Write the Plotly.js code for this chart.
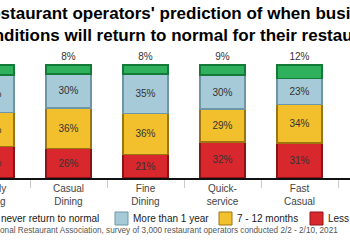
<!DOCTYPE html>
<html>
<head>
<meta charset="utf-8">
<script src="https://cdn.plot.ly/plotly-3.0.1.min.js"></script>
<style>
html,body{margin:0;padding:0;overflow:hidden;background:#fff;width:350px;height:250px;}
#chart{position:absolute;left:-60px;top:0;width:500px;height:250px;}
</style>
</head>
<body>
<div id="chart"></div>
<script>
// Data
const categories = ["Family<br>Dining", "Casual<br>Dining", "Fine<br>Dining", "Quick-<br>service", "Fast<br>Casual"];
const lessThan6 = [28, 26, 21, 32, 31];
const months7to12 = [30, 36, 36, 29, 34];
const moreThan1yr = [33, 30, 35, 30, 23];
const neverNormal = [9, 8, 8, 9, 12];
const seriesNames = ["Less than 6 months", "7 - 12 months", "More than 1 year", "Will never return to normal"];

const fills = ["#d8282d", "#f1c02c", "#a6cad8", "#2fb05c"];
const edges = ["#8c1418", "#9c7510", "#6d97a6", "#147a38"];
const seriesValues = [lessThan6, months7to12, moreThan1yr, neverNormal];

const traces = seriesValues.map((vals, i) => ({
  type: "bar",
  x: categories,
  y: vals,
  name: seriesNames[i],
  width: 0.58,
  marker: {color: fills[i], line: {color: edges[i], width: 1.5}},
  text: vals.map(v => v + "%"),
  textposition: i === 3 ? "outside" : "inside",
  insidetextanchor: "middle",
  textangle: 0,
  textfont: {family: "Liberation Sans, Arial", size: 10, color: "#333"},
  cliponaxis: false,
  hoverinfo: "skip",
  showlegend: false
}));

// pixel helpers (visible screen coords -> paper coords)
const PL = 13, PW = 462, BASE = 178, PH = 130, OFF = 60;
const px = sx => (sx + OFF - PL) / PW;
const py = sy => (BASE - sy) / PH;

const legendItems = [
  {name: "Will never return to normal", color: fills[3], edge: edges[3], box: -36},
  {name: "More than 1 year", color: fills[2], edge: edges[2], box: 115},
  {name: "7 - 12 months", color: fills[1], edge: edges[1], box: 219},
  {name: "Less than 6 months", color: fills[0], edge: edges[0], box: 310}
];
const shapes = [];
const annotations = [];
legendItems.forEach(it => {
  shapes.push({type: "rect", xref: "paper", yref: "paper",
    x0: px(it.box), x1: px(it.box + 13), y0: py(225), y1: py(212),
    fillcolor: it.color, line: {color: it.edge, width: 1}});
  annotations.push({xref: "paper", yref: "paper", x: px(it.box + 16), y: py(218.5),
    xanchor: "left", yanchor: "middle", showarrow: false, text: it.name,
    font: {family: "Liberation Sans, Arial", size: 10, color: "#1a1a1a"}});
});
annotations.push({xref: "paper", yref: "paper", x: px(340), y: py(230),
  xanchor: "right", yanchor: "middle", showarrow: false,
  text: "Source: National Restaurant Association, survey of 3,000 restaurant operators conducted 2/2 - 2/10, 2021",
  font: {family: "Liberation Sans, Arial", size: 8.2, color: "#555"}});

const layout = {
  width: 500, height: 250,
  margin: {l: PL, r: 500 - PL - PW, t: 48, b: 72},
  paper_bgcolor: "#fff", plot_bgcolor: "#fff",
  barmode: "stack",
  title: {text: "Restaurant operators' prediction of when business<br>conditions will return to normal for their restaurants",
    x: (184 + OFF) / 500, xanchor: "center", xref: "container",
    y: 1 - 19 / 250, yref: "container", yanchor: "middle",
    font: {family: "Liberation Sans, Arial", size: 17, color: "#000", weight: "bold"}},
  xaxis: {type: "category", range: [-0.5, 5.5], showline: true, linecolor: "#111", linewidth: 2,
    ticks: "outside", tickson: "boundaries", ticklen: 8, tickcolor: "#ccc", tickwidth: 1,
    showgrid: false, zeroline: false,
    tickfont: {family: "Liberation Sans, Arial", size: 10, color: "#444"}},
  yaxis: {range: [0, 115], visible: false, showgrid: false, zeroline: false},
  shapes: shapes,
  annotations: annotations,
  showlegend: false
};

Plotly.newPlot("chart", traces, layout, {staticPlot: true, displayModeBar: false});
</script>
</body>
</html>
